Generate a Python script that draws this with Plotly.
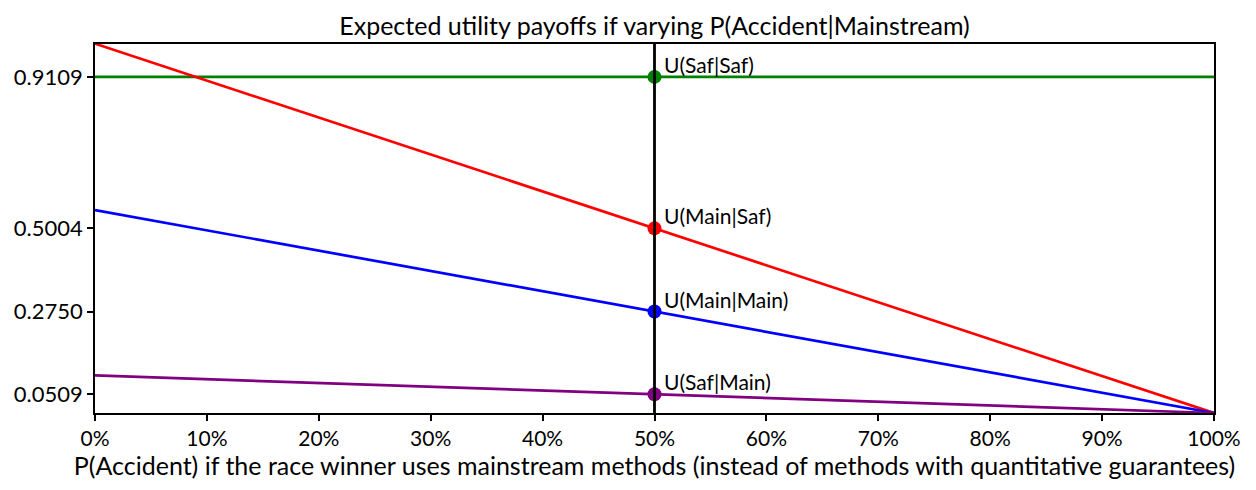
import plotly.graph_objects as go

# x grid: P(Accident | mainstream)
p_accident = [0.0, 0.5, 1.0]
u_saf_saf = [0.9109, 0.9109, 0.9109]
u_main_saf = [1.0008, 0.5004, 0.0]
u_main_main = [0.5500, 0.2750, 0.0]
u_saf_main = [0.1018, 0.0509, 0.0]

series = [
    ("U(Saf|Saf)", u_saf_saf, "green"),
    ("U(Main|Saf)", u_main_saf, "red"),
    ("U(Main|Main)", u_main_main, "blue"),
    ("U(Saf|Main)", u_saf_main, "purple"),
]

x_ticks = [i / 10 for i in range(11)]
x_ticktext = [f"{i * 10}%" for i in range(11)]
y_ticks = [0.0509, 0.2750, 0.5004, 0.9109]
y_ticktext = ["0.0509", "0.2750", "0.5004", "0.9109"]
marker_x = 0.5

FONT = "Lato, Noto Sans, sans-serif"

fig = go.Figure()
for name, vals, color in series:
    fig.add_trace(go.Scatter(
        x=p_accident, y=vals, mode="lines", name=name,
        line=dict(color=color, width=2.7), showlegend=False,
    ))

fig.add_vline(x=marker_x, line=dict(color="black", width=2.8))

for name, vals, color in series:
    y_mid = vals[p_accident.index(marker_x)]
    fig.add_trace(go.Scatter(
        x=[marker_x], y=[y_mid], mode="markers",
        marker=dict(color=color, size=14), showlegend=False,
    ))
    fig.add_annotation(
        x=marker_x, y=y_mid, text=name, showarrow=False,
        xanchor="left", yanchor="bottom", xshift=7, yshift=-2,
        font=dict(size=21, color="black", family=FONT),
    )

fig.update_layout(
    width=1256, height=490,
    margin=dict(l=87, r=50, t=36, b=85),
    plot_bgcolor="white", paper_bgcolor="white",
    font=dict(family=FONT, color="black", size=20),
    title=dict(text="Expected utility payoffs if varying P(Accident|Mainstream)",
               x=0.5, xref="paper", xanchor="center", y=0.962, yanchor="middle",
               font=dict(size=25, color="black")),
    xaxis=dict(
        range=[0, 1], tickvals=x_ticks, ticktext=x_ticktext, automargin=False,
        ticks="outside", ticklen=6, tickwidth=1.5, tickcolor="black",
        showline=True, linecolor="black", linewidth=1.5, mirror=True,
        showgrid=False, zeroline=False, tickfont=dict(size=21),
        title=dict(text="P(Accident) if the race winner uses mainstream methods (instead of methods with quantitative guarantees)",
                   font=dict(size=25), standoff=6),
    ),
    yaxis=dict(
        range=[0, 1], tickvals=y_ticks, ticktext=y_ticktext, automargin=False,
        ticks="outside", ticklen=6, tickwidth=1.5, tickcolor="black",
        showline=True, linecolor="black", linewidth=1.5, mirror=True,
        showgrid=False, zeroline=False, tickfont=dict(size=22),
    ),
)

fig.write_html("out.html")
